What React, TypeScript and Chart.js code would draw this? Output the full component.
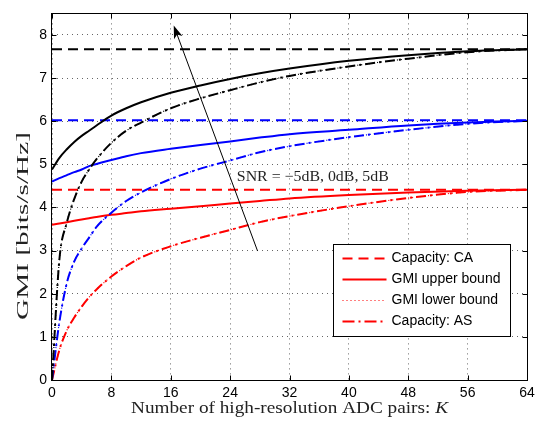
import React, { useEffect, useRef } from "react";
import { Chart, registerables } from "chart.js";

Chart.register(...registerables);

// ---------- data ----------
const K_VALUES = [0, 1, 2, 3, 4, 5, 6, 8, 10, 12, 16, 20, 24, 28, 32, 40, 48, 56, 64];
const K_RANGE = [0, 64];

const SNR_LABELS = ["SNR = 5dB", "SNR = 0dB", "SNR = -5dB"];
const SERIES_COLORS = ["#000000", "#0000ff", "#ff0000"];

const CAPACITY_CA = [7.67, 6.02, 4.41];

const GMI_UB_5DB = [4.88, 5.15, 5.35, 5.52, 5.66, 5.78, 5.9, 6.13, 6.3, 6.44, 6.66, 6.83, 6.98, 7.11, 7.22, 7.4, 7.53, 7.62, 7.67];
const GMI_UB_0DB = [4.6, 4.68, 4.75, 4.82, 4.88, 4.96, 5.01, 5.1, 5.19, 5.26, 5.36, 5.45, 5.53, 5.62, 5.7, 5.8, 5.9, 5.97, 6.01];
const GMI_UB_M5DB = [3.6, 3.63, 3.66, 3.69, 3.72, 3.75, 3.78, 3.83, 3.87, 3.91, 3.97, 4.03, 4.09, 4.15, 4.21, 4.29, 4.35, 4.39, 4.41];

const CAP_AS_5DB = [0, 2.8, 3.65, 4.2, 4.6, 4.88, 5.12, 5.5, 5.78, 5.97, 6.3, 6.53, 6.72, 6.9, 7.05, 7.27, 7.45, 7.6, 7.67];
const CAP_AS_0DB = [0, 1.35, 2.25, 2.75, 3.05, 3.3, 3.55, 3.88, 4.15, 4.35, 4.66, 4.9, 5.09, 5.28, 5.42, 5.63, 5.8, 5.94, 6.01];
const CAP_AS_M5DB = [0, 0.7, 1.15, 1.45, 1.7, 1.92, 2.1, 2.4, 2.64, 2.84, 3.1, 3.3, 3.48, 3.66, 3.8, 4.03, 4.22, 4.36, 4.41];

// lower bound is visually coincident with the AS capacity curves
const GMI_LB_5DB = CAP_AS_5DB;
const GMI_LB_0DB = CAP_AS_0DB;
const GMI_LB_M5DB = CAP_AS_M5DB;

const X_TICKS = [0, 8, 16, 24, 32, 40, 48, 56, 64];
const Y_TICKS = [0, 1, 2, 3, 4, 5, 6, 7, 8];

const LEGEND_LABELS = ["Capacity: CA", "GMI upper bound", "GMI lower bound", "Capacity: AS"];
const ANNOTATION_TEXT = "SNR = \u22125dB, 0dB, 5dB";
const X_TITLE_MAIN = "Number of high-resolution ADC pairs: ";
const X_TITLE_VAR = "K";
const Y_TITLE = "GMI [bits/s/Hz]";

// arrow (in data coordinates) and annotation anchor
const ARROW_FROM = { x: 27.7, y: 2.99 };
const ARROW_TO = { x: 16.4, y: 8.22 };
const ANNOTATION_AT = { x: 24.9, y: 4.71 };

// ---------- styles ----------
const DASH_CA = [10, 6];
const DASH_LB = [1, 3];
const DASH_AS = [10, 4, 2, 4];
const SANS = "'Liberation Sans', Arial, sans-serif";
const SERIF = "'Liberation Serif', 'Times New Roman', serif";

const pts = (ys: number[]) => K_VALUES.map((k, i) => ({ x: k, y: ys[i] }));

function drawStretched(
  ctx: CanvasRenderingContext2D,
  text: string,
  font: string,
  targetWidth: number
) {
  ctx.font = font;
  const w = ctx.measureText(text).width;
  ctx.save();
  ctx.scale(targetWidth / w, 1);
  ctx.fillText(text, 0, 0);
  ctx.restore();
}

const overlayPlugin = {
  id: "overlay",
  afterDraw(chart: any) {
    const ctx: CanvasRenderingContext2D = chart.ctx;
    const a = chart.chartArea;
    const xs = chart.scales.x;
    const ys = chart.scales.y;
    ctx.save();

    // box
    ctx.setLineDash([]);
    ctx.strokeStyle = "#000";
    ctx.lineWidth = 1;
    const L = Math.round(a.left) - 0.5;
    const R = Math.round(a.right) + 0.5;
    const T = Math.round(a.top) + 0.5;
    const B = Math.round(a.bottom) + 0.5;
    ctx.strokeRect(L, T, R - L, B - T);

    // inward ticks
    const tl = 5;
    ctx.beginPath();
    X_TICKS.forEach((t) => {
      const px = Math.round(xs.getPixelForValue(t)) + 0.5;
      ctx.moveTo(px, B);
      ctx.lineTo(px, B - tl);
      ctx.moveTo(px, T);
      ctx.lineTo(px, T + tl);
    });
    Y_TICKS.forEach((t) => {
      const py = Math.round(ys.getPixelForValue(t)) + 0.5;
      ctx.moveTo(L, py);
      ctx.lineTo(L + tl, py);
      ctx.moveTo(R, py);
      ctx.lineTo(R - tl, py);
    });
    ctx.stroke();

    // arrow
    const x0 = xs.getPixelForValue(ARROW_FROM.x);
    const y0 = ys.getPixelForValue(ARROW_FROM.y);
    const x1 = xs.getPixelForValue(ARROW_TO.x);
    const y1 = ys.getPixelForValue(ARROW_TO.y);
    const ang = Math.atan2(y1 - y0, x1 - x0);
    const hl = 13;
    const hw = 4.5;
    ctx.beginPath();
    ctx.moveTo(x0, y0);
    ctx.lineTo(x1 - Math.cos(ang) * hl * 0.7, y1 - Math.sin(ang) * hl * 0.7);
    ctx.stroke();
    const bx = x1 - Math.cos(ang) * hl;
    const by = y1 - Math.sin(ang) * hl;
    const nx = -Math.sin(ang);
    const ny = Math.cos(ang);
    ctx.beginPath();
    ctx.moveTo(x1, y1);
    ctx.lineTo(bx + nx * hw, by + ny * hw);
    ctx.lineTo(x1 - Math.cos(ang) * hl * 0.75, y1 - Math.sin(ang) * hl * 0.75);
    ctx.lineTo(bx - nx * hw, by - ny * hw);
    ctx.closePath();
    ctx.fillStyle = "#000";
    ctx.fill();

    // annotation
    ctx.fillStyle = "#222";
    ctx.textBaseline = "middle";
    ctx.textAlign = "left";
    ctx.save();
    ctx.translate(xs.getPixelForValue(ANNOTATION_AT.x), ys.getPixelForValue(ANNOTATION_AT.y));
    drawStretched(ctx, ANNOTATION_TEXT, `15px ${SERIF}`, 152);
    ctx.restore();

    // legend
    const lx = Math.round(a.right) - 193.5;
    const ly = Math.round(a.bottom) - 135.5;
    const lw = 177;
    const lh = 92;
    ctx.fillStyle = "#fff";
    ctx.fillRect(lx, ly, lw, lh);
    ctx.strokeStyle = "#000";
    ctx.lineWidth = 1;
    ctx.strokeRect(lx, ly, lw, lh);
    const dashes = [DASH_CA, [], DASH_LB, [12, 4, 2, 4]];
    const widths = [2, 2, 1.2, 2];
    ctx.font = `14px ${SANS}`;
    ctx.textBaseline = "middle";
    LEGEND_LABELS.forEach((lab, i) => {
      const yy = ly + 14 + i * 21;
      ctx.strokeStyle = SERIES_COLORS[2];
      ctx.lineWidth = widths[i];
      ctx.setLineDash(dashes[i]);
      ctx.beginPath();
      ctx.moveTo(lx + 9, yy);
      ctx.lineTo(lx + 53, yy);
      ctx.stroke();
      ctx.setLineDash([]);
      ctx.fillStyle = "#000";
      ctx.fillText(lab, lx + 58, yy);
    });

    // x title (K italic)
    ctx.fillStyle = "#222";
    const fMain = `17px ${SERIF}`;
    const fVar = `italic 17px ${SERIF}`;
    ctx.font = fMain;
    const w1 = ctx.measureText(X_TITLE_MAIN).width;
    ctx.font = fVar;
    const w2 = ctx.measureText(X_TITLE_VAR).width;
    const target = 317;
    const sc = target / (w1 + w2);
    ctx.save();
    ctx.translate((a.left + a.right) / 2 - target / 2, 409);
    ctx.scale(sc, 1);
    ctx.textAlign = "left";
    ctx.font = fMain;
    ctx.fillText(X_TITLE_MAIN, 0, 0);
    ctx.font = fVar;
    ctx.fillText(X_TITLE_VAR, w1, 0);
    ctx.restore();

    // y title
    ctx.save();
    ctx.translate(24, 226);
    ctx.rotate(-Math.PI / 2);
    ctx.textAlign = "center";
    drawStretched(ctx, Y_TITLE, `17px ${SERIF}`, 188);
    ctx.restore();

    ctx.restore();
  },
};

export default function App() {
  const ref = useRef<HTMLCanvasElement>(null);

  useEffect(() => {
    if (!ref.current) return;
    const ub = [GMI_UB_5DB, GMI_UB_0DB, GMI_UB_M5DB];
    const lb = [GMI_LB_5DB, GMI_LB_0DB, GMI_LB_M5DB];
    const as = [CAP_AS_5DB, CAP_AS_0DB, CAP_AS_M5DB];
    const datasets: any[] = [];
    SNR_LABELS.forEach((snr, i) => {
      const c = SERIES_COLORS[i];
      datasets.push({
        label: `${LEGEND_LABELS[0]} (${snr})`,
        data: K_RANGE.map((k) => ({ x: k, y: CAPACITY_CA[i] })),
        borderColor: c,
        borderWidth: 2,
        borderDash: DASH_CA,
      });
      datasets.push({
        label: `${LEGEND_LABELS[1]} (${snr})`,
        data: pts(ub[i]),
        borderColor: c,
        borderWidth: 2,
        cubicInterpolationMode: "monotone",
      });
      datasets.push({
        label: `${LEGEND_LABELS[3]} (${snr})`,
        data: pts(as[i]),
        borderColor: c,
        borderWidth: 2,
        borderDash: DASH_AS,
        cubicInterpolationMode: "monotone",
      });
      datasets.push({
        label: `${LEGEND_LABELS[2]} (${snr})`,
        data: pts(lb[i]),
        borderColor: c,
        borderWidth: 1.2,
        borderDash: DASH_LB,
        cubicInterpolationMode: "monotone",
      });
    });

    const chart = new Chart(ref.current, {
      type: "line",
      data: { datasets },
      options: {
        responsive: false,
        animation: false,
        events: [],
        elements: { point: { radius: 0 }, line: { fill: false } },
        layout: { padding: { top: 4, right: 22, left: 0, bottom: 0 } },
        plugins: { legend: { display: false }, tooltip: { enabled: false } },
        scales: {
          x: {
            type: "linear",
            min: 0,
            max: 64,
            afterFit: (s: any) => {
              s.height = 45;
            },
            afterBuildTicks: (s: any) => {
              s.ticks = X_TICKS.map((v) => ({ value: v }));
            },
            ticks: {
              autoSkip: false,
              maxRotation: 0,
              padding: 5,
              color: "#000",
              font: { family: SANS, size: 14 },
            },
            grid: { color: "rgba(0,0,0,0.6)", lineWidth: 1, drawTicks: false },
            border: { display: false, dash: [1, 4] },
          },
          y: {
            type: "linear",
            min: 0,
            max: 8.5,
            afterFit: (s: any) => {
              s.width = 52;
            },
            afterBuildTicks: (s: any) => {
              s.ticks = Y_TICKS.map((v) => ({ value: v }));
            },
            ticks: {
              autoSkip: false,
              padding: 5,
              color: "#000",
              font: { family: SANS, size: 14 },
            },
            grid: { color: "rgba(0,0,0,0.6)", lineWidth: 1, drawTicks: false },
            border: { display: false, dash: [1, 4] },
          },
        },
      } as any,
      plugins: [overlayPlugin],
    });
    return () => chart.destroy();
  }, []);

  return (
    <div style={{ position: "fixed", left: 0, top: 0, width: 549, height: 425, background: "#fff" }}>
      <canvas ref={ref} width={549} height={425} />
    </div>
  );
}
